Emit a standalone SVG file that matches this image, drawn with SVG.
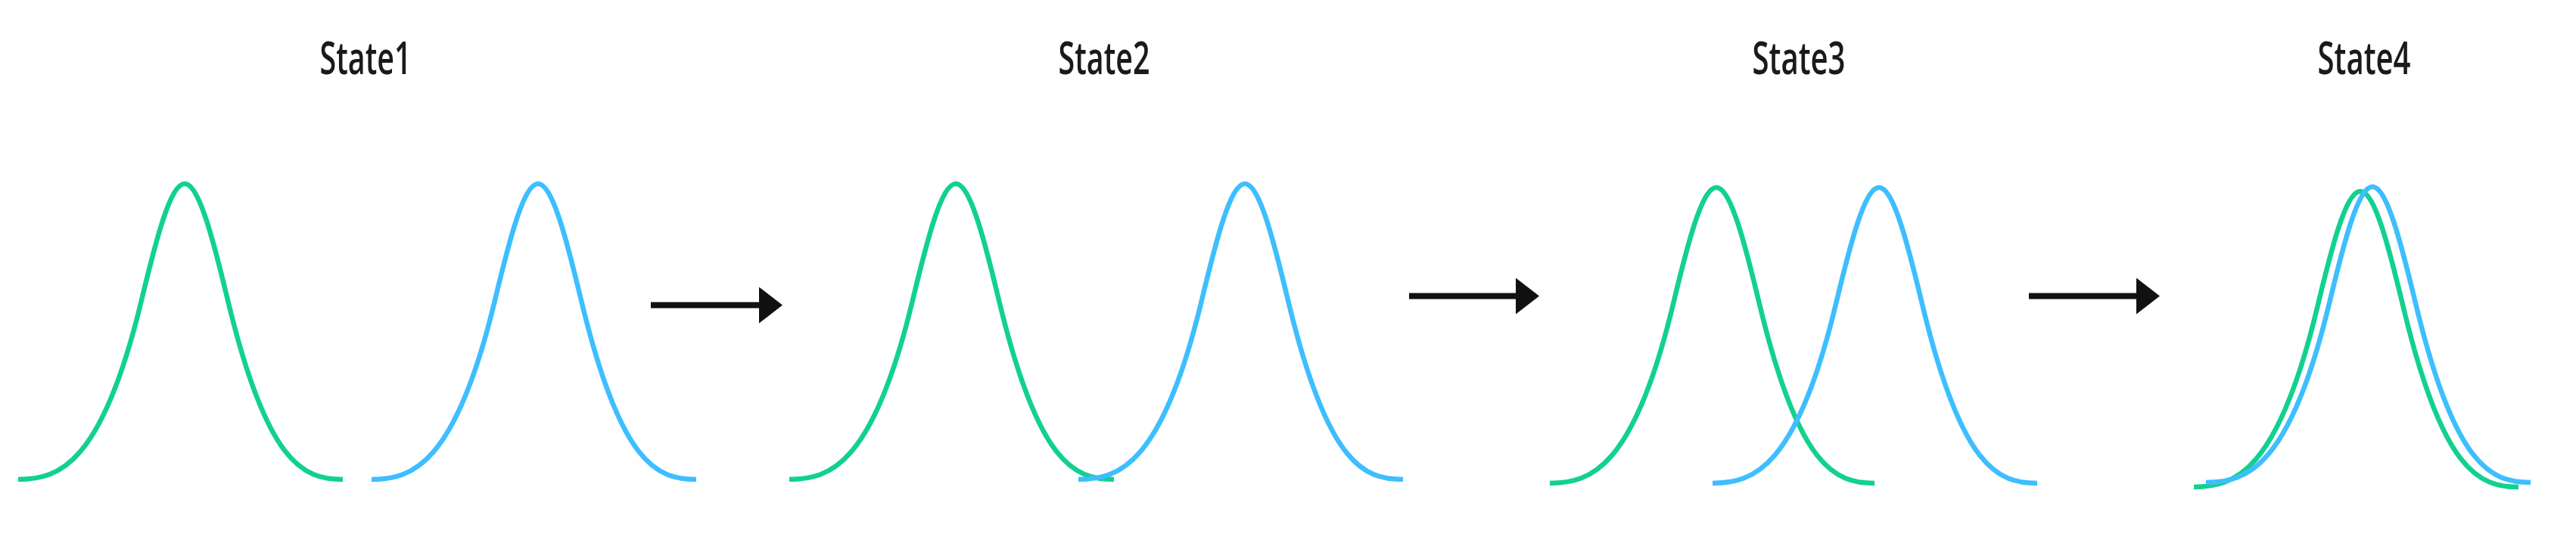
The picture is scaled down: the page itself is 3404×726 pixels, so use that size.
<svg xmlns="http://www.w3.org/2000/svg" xmlns:xlink="http://www.w3.org/1999/xlink" width="3404" height="726" viewBox="0 0 3404 726">
  <style>
    .label { font-family: "Open Sans", "Noto Sans", "Liberation Sans", sans-serif; font-size: 59px; font-weight: 600; fill: #1a1a1a; text-anchor: middle; }
    .curve { fill: none; stroke-width: 6.5; stroke-linejoin: round; stroke-linecap: butt; }
    .green { stroke: #12D18E; }
    .blue { stroke: #3DBEFF; }
    .arrow { stroke: #111111; stroke-width: 8; fill: none; }
  </style>
  <defs>
    <path id="bell" d="M-220,0 C-166,0 -109.3,-19.4 -57,-237 C-38,-316 -19,-391 0,-391 C19,-391 38,-316 57,-237 C109.3,-19.4 157,0 209,0"/>
    <marker id="head" markerUnits="userSpaceOnUse" markerWidth="31" markerHeight="48" viewBox="0 0 31 48" refX="0" refY="24" orient="auto">
      <path d="M0,0 L31,24 L0,48 Z" fill="#111111"/>
    </marker>
  </defs>
  <rect width="3404" height="726" fill="#ffffff"/>

  <g id="state1">
    <text class="label" x="483" y="98" textLength="121" lengthAdjust="spacingAndGlyphs">State1</text>
    <use xlink:href="#bell" href="#bell" class="curve green" transform="translate(244,634)"/>
    <use xlink:href="#bell" href="#bell" class="curve blue" transform="translate(711,634)"/>
  </g>

  <g id="state2">
    <text class="label" x="1459" y="98" textLength="121" lengthAdjust="spacingAndGlyphs">State2</text>
    <use xlink:href="#bell" href="#bell" class="curve green" transform="translate(1263,634)"/>
    <use xlink:href="#bell" href="#bell" class="curve blue" transform="translate(1645,634)"/>
  </g>

  <g id="state3">
    <text class="label" x="2377" y="98" textLength="123" lengthAdjust="spacingAndGlyphs">State3</text>
    <use xlink:href="#bell" href="#bell" class="curve green" transform="translate(2268,639)"/>
    <use xlink:href="#bell" href="#bell" class="curve blue" transform="translate(2483,639)"/>
  </g>

  <g id="state4">
    <text class="label" x="3124" y="98" textLength="123" lengthAdjust="spacingAndGlyphs">State4</text>
    <use xlink:href="#bell" href="#bell" class="curve green" transform="translate(3119,644)"/>
    <use xlink:href="#bell" href="#bell" class="curve blue" transform="translate(3135,638)"/>
  </g>

  <g id="connectors">
    <line class="arrow" x1="860" y1="403.5" x2="1003" y2="403.5" marker-end="url(#head)"/>
    <line class="arrow" x1="1862" y1="391.5" x2="2003" y2="391.5" marker-end="url(#head)"/>
    <line class="arrow" x1="2681" y1="391.5" x2="2823" y2="391.5" marker-end="url(#head)"/>
  </g>
</svg>
